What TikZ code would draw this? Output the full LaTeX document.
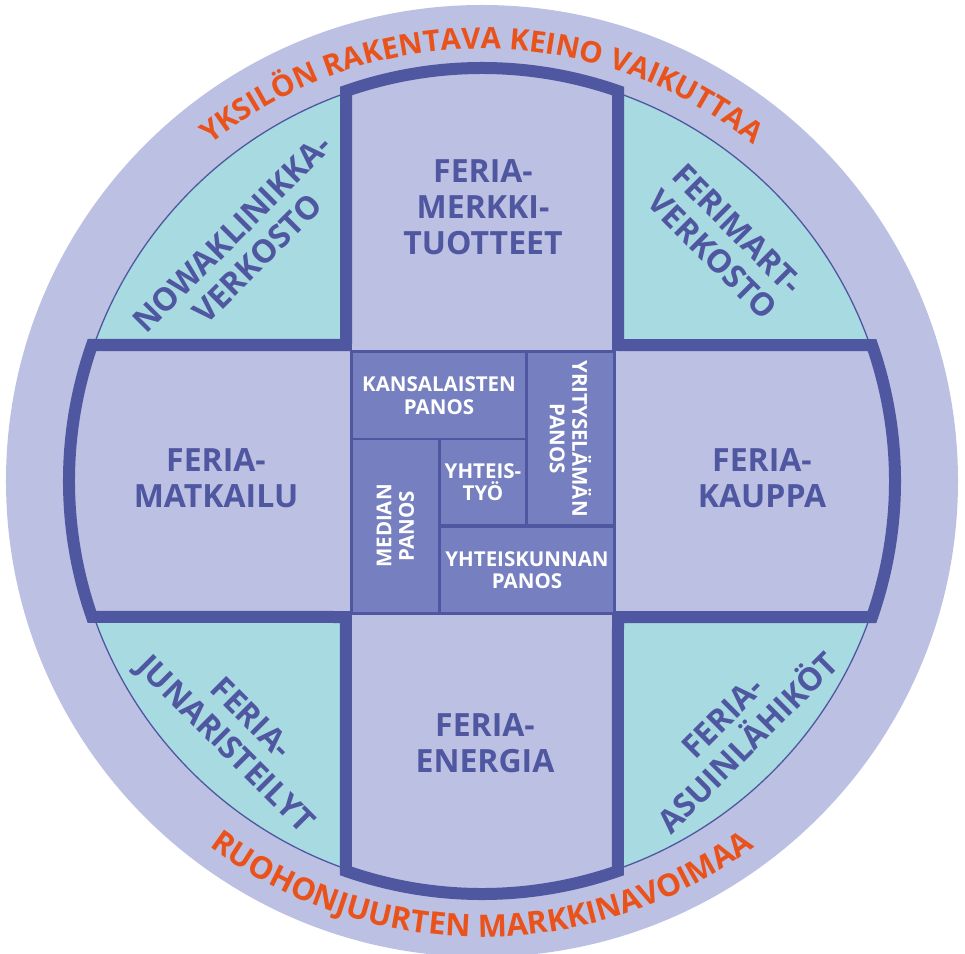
\documentclass[tikz,border=0pt]{standalone}
\usepackage{fontspec}
\setmainfont{Open Sans}
\usetikzlibrary{decorations.text}
\definecolor{ringc}{RGB}{188,192,226}
\definecolor{tealc}{RGB}{168,218,226}
\definecolor{darkc}{RGB}{80,87,161}
\definecolor{blockc}{RGB}{118,128,192}
\definecolor{orangec}{RGB}{233,83,27}
\newcommand{\ofonttop}{\fontsize{29.5}{30}\selectfont\bfseries}
\newcommand{\ofontbot}{\fontsize{31}{31}\selectfont\bfseries}
\tikzset{
  armtext/.style={text=darkc, font=\fontsize{32}{36}\selectfont\bfseries, align=center, inner sep=0pt},
  blockbox/.style={fill=blockc, draw=none, inner sep=0pt, text=white,
    font=\fontsize{20.5}{22.5}\selectfont\bfseries, align=center},
  crossline/.style={fill=ringc, draw=darkc, line width=12pt, line join=miter},
}
\begin{document}
\begin{tikzpicture}[x=1pt,y=1pt]
\useasboundingbox (-482,-472) rectangle (483,481);
% outer ring
\fill[ringc] (0,0) circle[radius=476];
% teal disk
\filldraw[fill=tealc, draw=darkc, line width=1.3pt] (0,0) circle[radius=411];
% cross
\draw[crossline]
  (136,136) -- (136,390) arc[start angle=70.78, end angle=109.22, radius=413]
  -- (-136,136) -- (-390,136) arc[start angle=160.78, end angle=199.22, radius=413]
  -- (-136,-136) -- (-136,-390) arc[start angle=250.78, end angle=289.22, radius=413]
  -- (136,-136) -- (390,-136) arc[start angle=-19.22, end angle=19.22, radius=413]
  -- cycle;
% centre square
\fill[darkc] (-132,131) rectangle (134,-134);
\node[blockbox, minimum width=172, minimum height=85] (kans) at (-43,85.5) {KANSALAISTEN\\PANOS};
\node[blockbox, minimum width=171, minimum height=85, rotate=-90] (yrit) at (88.5,42.5) {YRITYSELÄMÄN\\PANOS};
\node[blockbox, minimum width=172, minimum height=85, rotate=90] (medi) at (-86.5,-45) {MEDIAN\\PANOS};
\node[blockbox, minimum width=84, minimum height=84] (yhte) at (1,-1) {YHTEIS-\\TYÖ};
\node[blockbox, minimum width=172, minimum height=84] (yhks) at (45,-89) {YHTEISKUNNAN\\PANOS};
% arm labels
\node[armtext] (merkki) at (1,273.5) {FERIA-\\MERKKI-\\TUOTTEET};
\node[armtext] (matk) at (-266,2.5) {FERIA-\\MATKAILU};
\node[armtext] (kaup) at (280,2.5) {FERIA-\\KAUPPA};
\node[armtext] (ener) at (3,-262.5) {FERIA-\\ENERGIA};
% quadrant labels
\node[armtext, rotate=45] (nowa) at (-237.5,235) {NOWAKLINIKKA-\\VERKOSTO};
\node[armtext, rotate=-45] (ferimart) at (243,239) {FERIMART-\\VERKOSTO};
\node[armtext, rotate=-45] (juna) at (-245,-252) {FERIA-\\JUNARISTEILYT};
\node[armtext, rotate=45] (asuin) at (253,-249) {FERIA-\\ASUINLÄHIKÖT};
% curved texts
\path[decorate, decoration={text along path, text align=center, text color=orangec,
  text={|\ofonttop|YKSILÖN RAKENTAVA KEINO VAIKUTTAA}}]
  (160:432) arc[start angle=160, end angle=20, radius=432];
\path[decorate, decoration={text along path, text align=center, text color=orangec,
  text={|\ofontbot|RUOHONJUURTEN MARKKINAVOIMAA}}]
  (200:456) arc[start angle=200, end angle=340, radius=456];
\end{tikzpicture}
\end{document}
